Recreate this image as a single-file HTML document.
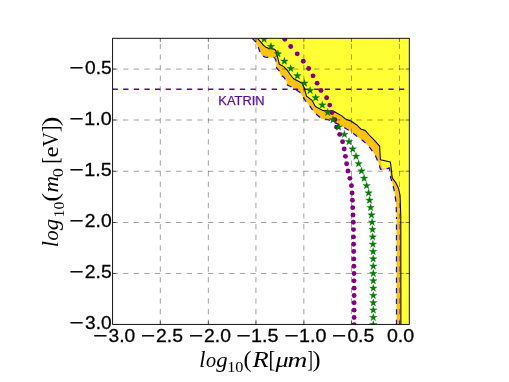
<!DOCTYPE html>
<html><head><meta charset="utf-8"><title>plot</title>
<style>html,body{margin:0;padding:0;background:#fff;}body{width:509px;height:382px;overflow:hidden;font-family:"Liberation Sans",sans-serif;}svg{display:block;}text{font-family:"Liberation Sans",sans-serif;}.s{font-family:"Liberation Serif",serif;}.i{font-family:"Liberation Serif",serif;font-style:italic;}</style></head><body>
<svg style="will-change:transform" width="509" height="382" viewBox="0 0 509 382">
<rect width="509" height="382" fill="#fff"/>
<defs><clipPath id="c"><rect x="112.6" y="38.3" width="296.7" height="286.1"/></clipPath></defs>
<g clip-path="url(#c)">
<polygon points="257.6,38.3 258.1,39.1 260.9,42.2 263.6,45.4 266.0,47.3 269.1,48.5 273.9,48.9 275.8,50.5 277.0,54.8 278.3,59.9 279.4,64.3 283.8,66.6 286.9,69.8 289.6,73.7 293.6,78.8 297.5,80.8 302.6,83.5 304.2,87.7 306.5,96.2 311.8,100.1 315.4,106.5 323.0,110.6 333.6,111.2 341.8,115.9 345.4,118.9 351.3,121.2 357.2,125.3 360.7,128.9 365.4,130.6 369.2,135.0 374.5,140.3 379.6,146.2 380.4,159.8 381.3,164.5 382.4,168.4 385.5,168.2 389.0,166.9 390.9,167.6 391.6,172.0 392.2,177.9 395.7,182.6 398.6,188.5 400.1,195.6 400.8,217.0 400.9,326.0 410.3,325.4 410.3,37.3 257.1,37.3" fill="#ffff33"/>
<polygon points="251.9,37.3 252.4,38.3 253.0,39.1 255.8,42.2 258.1,46.9 260.1,52.4 262.1,55.6 265.2,57.1 269.9,57.4 274.3,57.5 275.8,60.0 276.3,64.0 276.5,67.8 279.0,70.5 280.6,74.9 283.8,77.2 286.5,81.1 287.5,85.1 293.0,87.7 300.0,92.4 305.3,100.6 310.1,106.3 314.7,113.0 321.8,118.9 327.7,119.5 337.1,123.6 345.4,128.3 351.3,131.8 357.2,136.5 363.0,140.7 369.2,146.8 375.1,155.0 379.2,164.5 380.4,169.2 383.3,170.1 389.2,168.0 390.4,175.1 390.7,177.9 392.7,183.8 394.5,192.0 396.1,202.6 396.5,217.0 396.5,326.0 400.9,326.0 400.8,217.0 400.1,195.6 398.6,188.5 395.7,182.6 392.2,177.9 391.6,172.0 390.9,167.6 389.0,166.9 385.5,168.2 382.4,168.4 381.3,164.5 380.4,159.8 379.6,146.2 374.5,140.3 369.2,135.0 365.4,130.6 360.7,128.9 357.2,125.3 351.3,121.2 345.4,118.9 341.8,115.9 333.6,111.2 323.0,110.6 315.4,106.5 311.8,100.1 306.5,96.2 304.2,87.7 302.6,83.5 297.5,80.8 293.6,78.8 289.6,73.7 286.9,69.8 283.8,66.6 279.4,64.3 278.3,59.9 277.0,54.8 275.8,50.5 273.9,48.9 269.1,48.5 266.0,47.3 263.6,45.4 260.9,42.2 258.1,39.1 257.6,38.3 257.1,37.3" fill="#ffc20d"/>
<g stroke="#000" stroke-opacity="0.57" stroke-width="0.66" fill="none" stroke-dasharray="5.303 5.303">
<line x1="160.30" y1="324.84" x2="160.30" y2="30"/>
<line x1="208.35" y1="324.84" x2="208.35" y2="30"/>
<line x1="255.95" y1="324.84" x2="255.95" y2="30"/>
<line x1="303.85" y1="324.84" x2="303.85" y2="30"/>
<line x1="351.45" y1="324.84" x2="351.45" y2="30"/>
<line x1="399.45" y1="324.84" x2="399.45" y2="30"/>
</g>
<g stroke="#000" stroke-opacity="0.57" stroke-width="0.66" fill="none" stroke-dasharray="5.303 5.303">
<line x1="112.5" y1="273.45" x2="420" y2="273.45"/>
<line x1="112.5" y1="222.50" x2="420" y2="222.50"/>
<line x1="112.5" y1="171.25" x2="420" y2="171.25"/>
<line x1="112.5" y1="120.00" x2="420" y2="120.00"/>
<line x1="112.5" y1="69.08" x2="420" y2="69.08"/>
</g>
<line x1="112.6" y1="89.30" x2="404.3" y2="89.30" stroke="#5e0099" stroke-width="1.45" stroke-dasharray="5.303 5.303"/>
<polyline points="257.6,38.3 258.1,39.1 260.9,42.2 263.6,45.4 266.0,47.3 269.1,48.5 273.9,48.9 275.8,50.5 277.0,54.8 278.3,59.9 279.4,64.3 283.8,66.6 286.9,69.8 289.6,73.7 293.6,78.8 297.5,80.8 302.6,83.5 304.2,87.7 306.5,96.2 311.8,100.1 315.4,106.5 323.0,110.6 333.6,111.2 341.8,115.9 345.4,118.9 351.3,121.2 357.2,125.3 360.7,128.9 365.4,130.6 369.2,135.0 374.5,140.3 379.6,146.2 380.4,159.8 390.4,162.1 391.6,172.0 392.2,177.9 395.7,182.6 398.6,188.5 400.1,195.6 400.8,217.0 400.9,326.0" fill="none" stroke="#000" stroke-width="1.05" stroke-linejoin="round"/>
<polyline points="252.4,38.3 253.0,39.1 255.8,42.2 258.1,46.9 260.1,52.4 262.1,55.6 265.2,57.1 269.9,57.4 274.3,57.5 275.8,60.0 276.3,64.0 276.5,67.8 279.0,70.5 280.6,74.9 283.8,77.2 286.5,81.1 287.5,85.1 293.0,87.7 300.0,92.4 305.3,100.6 310.1,106.3 314.7,113.0 321.8,118.9 327.7,119.5 337.1,123.6 345.4,128.3 351.3,131.8 357.2,136.5 363.0,140.7 369.2,146.8 375.1,155.0 379.2,164.5 380.4,169.2 383.3,170.1 389.2,168.0 390.4,175.1 390.7,177.9 392.7,183.8 394.5,192.0 396.1,202.6 396.5,217.0" fill="none" stroke="#0a0aff" stroke-width="1.25" stroke-dasharray="5.303 5.303"/>
<polyline points="396.5,217.0 396.5,326.0" fill="none" stroke="#0a0aff" stroke-width="1.25" stroke-dasharray="5.303 5.303" stroke-dashoffset="3.2"/>
<g fill="#800080">
<circle cx="354.1" cy="324.78" r="2.45"/>
<circle cx="354.1" cy="317.46" r="2.45"/>
<circle cx="354.1" cy="310.14" r="2.45"/>
<circle cx="354.1" cy="302.81" r="2.45"/>
<circle cx="354.1" cy="295.49" r="2.45"/>
<circle cx="354.1" cy="288.17" r="2.45"/>
<circle cx="354.0" cy="280.85" r="2.45"/>
<circle cx="354.0" cy="273.53" r="2.45"/>
<circle cx="353.9" cy="266.20" r="2.45"/>
<circle cx="353.8" cy="258.88" r="2.45"/>
<circle cx="353.7" cy="251.56" r="2.45"/>
<circle cx="353.6" cy="244.24" r="2.45"/>
<circle cx="353.5" cy="236.92" r="2.45"/>
<circle cx="353.5" cy="229.59" r="2.45"/>
<circle cx="353.3" cy="222.27" r="2.45"/>
<circle cx="353.0" cy="214.95" r="2.45"/>
<circle cx="352.7" cy="207.63" r="2.45"/>
<circle cx="352.4" cy="200.31" r="2.45"/>
<circle cx="352.1" cy="192.98" r="2.45"/>
<circle cx="351.5" cy="185.66" r="2.45"/>
<circle cx="349.9" cy="178.34" r="2.45"/>
<circle cx="348.0" cy="171.02" r="2.45"/>
<circle cx="346.6" cy="163.70" r="2.45"/>
<circle cx="345.4" cy="156.37" r="2.45"/>
<circle cx="344.2" cy="149.05" r="2.45"/>
<circle cx="342.6" cy="141.73" r="2.45"/>
<circle cx="339.7" cy="134.41" r="2.45"/>
<circle cx="336.5" cy="127.09" r="2.45"/>
<circle cx="334.8" cy="119.76" r="2.45"/>
<circle cx="332.0" cy="112.44" r="2.45"/>
<circle cx="329.7" cy="105.12" r="2.45"/>
<circle cx="326.6" cy="97.80" r="2.45"/>
<circle cx="321.0" cy="90.48" r="2.45"/>
<circle cx="317.1" cy="83.15" r="2.45"/>
<circle cx="313.0" cy="75.83" r="2.45"/>
<circle cx="308.7" cy="68.51" r="2.45"/>
<circle cx="303.3" cy="61.19" r="2.45"/>
<circle cx="297.2" cy="53.87" r="2.45"/>
<circle cx="290.7" cy="46.54" r="2.45"/>
<circle cx="284.8" cy="39.22" r="2.45"/>
</g>
<g fill="#008000" stroke="#006400" stroke-width="0.3">
<polygon points="373.30,320.83 374.23,323.50 377.06,323.56 374.80,325.27 375.62,327.98 373.30,326.36 370.98,327.98 371.80,325.27 369.54,323.56 372.37,323.50"/>
<polygon points="373.30,313.51 374.23,316.18 377.06,316.24 374.80,317.95 375.62,320.65 373.30,319.04 370.98,320.65 371.80,317.95 369.54,316.24 372.37,316.18"/>
<polygon points="373.30,306.19 374.23,308.86 377.06,308.92 374.80,310.62 375.62,313.33 373.30,311.72 370.98,313.33 371.80,310.62 369.54,308.92 372.37,308.86"/>
<polygon points="373.30,298.86 374.23,301.54 377.06,301.59 374.80,303.30 375.62,306.01 373.30,304.39 370.98,306.01 371.80,303.30 369.54,301.59 372.37,301.54"/>
<polygon points="373.30,291.54 374.23,294.21 377.06,294.27 374.80,295.98 375.62,298.69 373.30,297.07 370.98,298.69 371.80,295.98 369.54,294.27 372.37,294.21"/>
<polygon points="373.30,284.22 374.23,286.89 377.06,286.95 374.80,288.66 375.62,291.37 373.30,289.75 370.98,291.37 371.80,288.66 369.54,286.95 372.37,286.89"/>
<polygon points="373.30,276.90 374.23,279.57 377.06,279.63 374.80,281.34 375.62,284.04 373.30,282.43 370.98,284.04 371.80,281.34 369.54,279.63 372.37,279.57"/>
<polygon points="373.30,269.58 374.23,272.25 377.06,272.31 374.80,274.01 375.62,276.72 373.30,275.11 370.98,276.72 371.80,274.01 369.54,272.31 372.37,272.25"/>
<polygon points="373.30,262.25 374.23,264.93 377.06,264.98 374.80,266.69 375.62,269.40 373.30,267.78 370.98,269.40 371.80,266.69 369.54,264.98 372.37,264.93"/>
<polygon points="373.20,254.93 374.13,257.60 376.96,257.66 374.70,259.37 375.52,262.08 373.20,260.46 370.88,262.08 371.70,259.37 369.44,257.66 372.27,257.60"/>
<polygon points="373.10,247.61 374.03,250.28 376.86,250.34 374.60,252.05 375.42,254.76 373.10,253.14 370.78,254.76 371.60,252.05 369.34,250.34 372.17,250.28"/>
<polygon points="372.90,240.29 373.83,242.96 376.66,243.02 374.40,244.73 375.22,247.43 372.90,245.82 370.58,247.43 371.40,244.73 369.14,243.02 371.97,242.96"/>
<polygon points="372.70,232.97 373.63,235.64 376.46,235.70 374.20,237.40 375.02,240.11 372.70,238.50 370.38,240.11 371.20,237.40 368.94,235.70 371.77,235.64"/>
<polygon points="372.50,225.64 373.43,228.32 376.26,228.37 374.00,230.08 374.82,232.79 372.50,231.17 370.18,232.79 371.00,230.08 368.74,228.37 371.57,228.32"/>
<polygon points="372.10,218.32 373.03,220.99 375.86,221.05 373.60,222.76 374.42,225.47 372.10,223.85 369.78,225.47 370.60,222.76 368.34,221.05 371.17,220.99"/>
<polygon points="371.50,211.00 372.43,213.67 375.26,213.73 373.00,215.44 373.82,218.15 371.50,216.53 369.18,218.15 370.00,215.44 367.74,213.73 370.57,213.67"/>
<polygon points="370.60,203.68 371.53,206.35 374.36,206.41 372.10,208.12 372.92,210.82 370.60,209.21 368.28,210.82 369.10,208.12 366.84,206.41 369.67,206.35"/>
<polygon points="369.50,196.36 370.43,199.03 373.26,199.09 371.00,200.79 371.82,203.50 369.50,201.89 367.18,203.50 368.00,200.79 365.74,199.09 368.57,199.03"/>
<polygon points="368.60,189.03 369.53,191.71 372.36,191.76 370.10,193.47 370.92,196.18 368.60,194.56 366.28,196.18 367.10,193.47 364.84,191.76 367.67,191.71"/>
<polygon points="366.60,181.71 367.53,184.38 370.36,184.44 368.10,186.15 368.92,188.86 366.60,187.24 364.28,188.86 365.10,186.15 362.84,184.44 365.67,184.38"/>
<polygon points="364.10,174.39 365.03,177.06 367.86,177.12 365.60,178.83 366.42,181.54 364.10,179.92 361.78,181.54 362.60,178.83 360.34,177.12 363.17,177.06"/>
<polygon points="361.50,167.07 362.43,169.74 365.26,169.80 363.00,171.51 363.82,174.21 361.50,172.60 359.18,174.21 360.00,171.51 357.74,169.80 360.57,169.74"/>
<polygon points="358.60,159.75 359.53,162.42 362.36,162.48 360.10,164.18 360.92,166.89 358.60,165.28 356.28,166.89 357.10,164.18 354.84,162.48 357.67,162.42"/>
<polygon points="356.00,152.42 356.93,155.10 359.76,155.15 357.50,156.86 358.32,159.57 356.00,157.95 353.68,159.57 354.50,156.86 352.24,155.15 355.07,155.10"/>
<polygon points="352.70,145.10 353.63,147.77 356.46,147.83 354.20,149.54 355.02,152.25 352.70,150.63 350.38,152.25 351.20,149.54 348.94,147.83 351.77,147.77"/>
<polygon points="349.00,137.78 349.93,140.45 352.76,140.51 350.50,142.22 351.32,144.93 349.00,143.31 346.68,144.93 347.50,142.22 345.24,140.51 348.07,140.45"/>
<polygon points="344.40,130.46 345.33,133.13 348.16,133.19 345.90,134.90 346.72,137.60 344.40,135.99 342.08,137.60 342.90,134.90 340.64,133.19 343.47,133.13"/>
<polygon points="338.60,123.14 339.53,125.81 342.36,125.87 340.10,127.57 340.92,130.28 338.60,128.67 336.28,130.28 337.10,127.57 334.84,125.87 337.67,125.81"/>
<polygon points="333.00,115.81 333.93,118.49 336.76,118.54 334.50,120.25 335.32,122.96 333.00,121.34 330.68,122.96 331.50,120.25 329.24,118.54 332.07,118.49"/>
<polygon points="327.70,108.49 328.63,111.16 331.46,111.22 329.20,112.93 330.02,115.64 327.70,114.02 325.38,115.64 326.20,112.93 323.94,111.22 326.77,111.16"/>
<polygon points="322.30,101.17 323.23,103.84 326.06,103.90 323.80,105.61 324.62,108.32 322.30,106.70 319.98,108.32 320.80,105.61 318.54,103.90 321.37,103.84"/>
<polygon points="315.70,93.85 316.63,96.52 319.46,96.58 317.20,98.29 318.02,100.99 315.70,99.38 313.38,100.99 314.20,98.29 311.94,96.58 314.77,96.52"/>
<polygon points="310.10,86.53 311.03,89.20 313.86,89.26 311.60,90.96 312.42,93.67 310.10,92.06 307.78,93.67 308.60,90.96 306.34,89.26 309.17,89.20"/>
<polygon points="304.40,79.20 305.33,81.88 308.16,81.93 305.90,83.64 306.72,86.35 304.40,84.73 302.08,86.35 302.90,83.64 300.64,81.93 303.47,81.88"/>
<polygon points="297.40,71.88 298.33,74.55 301.16,74.61 298.90,76.32 299.72,79.03 297.40,77.41 295.08,79.03 295.90,76.32 293.64,74.61 296.47,74.55"/>
<polygon points="290.70,64.56 291.63,67.23 294.46,67.29 292.20,69.00 293.02,71.71 290.70,70.09 288.38,71.71 289.20,69.00 286.94,67.29 289.77,67.23"/>
<polygon points="284.40,57.24 285.33,59.91 288.16,59.97 285.90,61.68 286.72,64.38 284.40,62.77 282.08,64.38 282.90,61.68 280.64,59.97 283.47,59.91"/>
<polygon points="277.90,49.92 278.83,52.59 281.66,52.65 279.40,54.35 280.22,57.06 277.90,55.45 275.58,57.06 276.40,54.35 274.14,52.65 276.97,52.59"/>
<polygon points="271.00,42.59 271.93,45.27 274.76,45.32 272.50,47.03 273.32,49.74 271.00,48.12 268.68,49.74 269.50,47.03 267.24,45.32 270.07,45.27"/>
<polygon points="264.10,35.27 265.03,37.94 267.86,38.00 265.60,39.71 266.42,42.42 264.10,40.80 261.78,42.42 262.60,39.71 260.34,38.00 263.17,37.94"/>
</g>
</g>
<rect x="112.60" y="38.30" width="296.70" height="286.10" fill="none" stroke="#000" stroke-width="0.92"/>
<g stroke="#000" stroke-width="0.55">
<line x1="160.30" y1="324.40" x2="160.30" y2="320.80"/>
<line x1="160.30" y1="38.30" x2="160.30" y2="41.90"/>
<line x1="208.35" y1="324.40" x2="208.35" y2="320.80"/>
<line x1="208.35" y1="38.30" x2="208.35" y2="41.90"/>
<line x1="255.95" y1="324.40" x2="255.95" y2="320.80"/>
<line x1="255.95" y1="38.30" x2="255.95" y2="41.90"/>
<line x1="303.85" y1="324.40" x2="303.85" y2="320.80"/>
<line x1="303.85" y1="38.30" x2="303.85" y2="41.90"/>
<line x1="351.45" y1="324.40" x2="351.45" y2="320.80"/>
<line x1="351.45" y1="38.30" x2="351.45" y2="41.90"/>
<line x1="399.45" y1="324.40" x2="399.45" y2="320.80"/>
<line x1="399.45" y1="38.30" x2="399.45" y2="41.90"/>
<line x1="112.60" y1="273.45" x2="116.20" y2="273.45"/>
<line x1="409.30" y1="273.45" x2="405.70" y2="273.45"/>
<line x1="112.60" y1="222.50" x2="116.20" y2="222.50"/>
<line x1="409.30" y1="222.50" x2="405.70" y2="222.50"/>
<line x1="112.60" y1="171.25" x2="116.20" y2="171.25"/>
<line x1="409.30" y1="171.25" x2="405.70" y2="171.25"/>
<line x1="112.60" y1="120.00" x2="116.20" y2="120.00"/>
<line x1="409.30" y1="120.00" x2="405.70" y2="120.00"/>
<line x1="112.60" y1="69.08" x2="116.20" y2="69.08"/>
<line x1="409.30" y1="69.08" x2="405.70" y2="69.08"/>
</g>
<text y="104.9" font-size="12.5" fill="#5a0e9c" stroke="#5a0e9c" stroke-width="0.25"><tspan x="218.37" textLength="46.26" lengthAdjust="spacingAndGlyphs">KATRIN</tspan></text>
<text y="342.1" font-size="18.8" stroke="#000" stroke-width="0.3"><tspan x="93.20" textLength="14.18" lengthAdjust="spacingAndGlyphs">−</tspan><tspan x="108.57" textLength="26.63" lengthAdjust="spacingAndGlyphs">3.0</tspan></text>
<text y="342.1" font-size="18.8" stroke="#000" stroke-width="0.3"><tspan x="140.90" textLength="14.18" lengthAdjust="spacingAndGlyphs">−</tspan><tspan x="156.03" textLength="26.94" lengthAdjust="spacingAndGlyphs">2.5</tspan></text>
<text y="342.1" font-size="18.8" stroke="#000" stroke-width="0.3"><tspan x="188.95" textLength="14.18" lengthAdjust="spacingAndGlyphs">−</tspan><tspan x="204.08" textLength="26.88" lengthAdjust="spacingAndGlyphs">2.0</tspan></text>
<text y="342.1" font-size="18.8" stroke="#000" stroke-width="0.3"><tspan x="236.55" textLength="14.18" lengthAdjust="spacingAndGlyphs">−</tspan><tspan x="251.14" textLength="27.49" lengthAdjust="spacingAndGlyphs">1.5</tspan></text>
<text y="342.1" font-size="18.8" stroke="#000" stroke-width="0.3"><tspan x="284.45" textLength="14.18" lengthAdjust="spacingAndGlyphs">−</tspan><tspan x="299.05" textLength="27.42" lengthAdjust="spacingAndGlyphs">1.0</tspan></text>
<text y="342.1" font-size="18.8" stroke="#000" stroke-width="0.3"><tspan x="332.05" textLength="14.18" lengthAdjust="spacingAndGlyphs">−</tspan><tspan x="347.40" textLength="26.71" lengthAdjust="spacingAndGlyphs">0.5</tspan></text>
<text y="342.1" font-size="18.8" stroke="#000" stroke-width="0.3"><tspan x="386.98" textLength="27.23" lengthAdjust="spacingAndGlyphs">0.0</tspan></text>
<text y="329.4" font-size="18.8" stroke="#000" stroke-width="0.3"><tspan x="69.61" textLength="14.06" lengthAdjust="spacingAndGlyphs">−</tspan><tspan x="85.07" textLength="26.57" lengthAdjust="spacingAndGlyphs">3.0</tspan></text>
<text y="278.1" font-size="18.8" stroke="#000" stroke-width="0.3"><tspan x="69.61" textLength="14.06" lengthAdjust="spacingAndGlyphs">−</tspan><tspan x="84.83" textLength="26.88" lengthAdjust="spacingAndGlyphs">2.5</tspan></text>
<text y="227.2" font-size="18.8" stroke="#000" stroke-width="0.3"><tspan x="69.61" textLength="14.06" lengthAdjust="spacingAndGlyphs">−</tspan><tspan x="84.83" textLength="26.82" lengthAdjust="spacingAndGlyphs">2.0</tspan></text>
<text y="175.9" font-size="18.8" stroke="#000" stroke-width="0.3"><tspan x="69.61" textLength="14.06" lengthAdjust="spacingAndGlyphs">−</tspan><tspan x="84.30" textLength="27.43" lengthAdjust="spacingAndGlyphs">1.5</tspan></text>
<text y="124.7" font-size="18.8" stroke="#000" stroke-width="0.3"><tspan x="69.61" textLength="14.06" lengthAdjust="spacingAndGlyphs">−</tspan><tspan x="84.30" textLength="27.37" lengthAdjust="spacingAndGlyphs">1.0</tspan></text>
<text y="73.8" font-size="18.8" stroke="#000" stroke-width="0.3"><tspan x="69.61" textLength="14.06" lengthAdjust="spacingAndGlyphs">−</tspan><tspan x="85.05" textLength="26.65" lengthAdjust="spacingAndGlyphs">0.5</tspan></text>
<g transform="translate(200.3,366.5)"><text class="i" y="0.0" font-size="23.3"><tspan x="-1.18" textLength="6.17" lengthAdjust="spacingAndGlyphs">l</tspan></text><text class="i" y="0.0" font-size="22.0"><tspan x="5.60" textLength="10.10" lengthAdjust="spacingAndGlyphs">o</tspan></text><text class="i" y="0.0" font-size="22.0"><tspan x="15.89" textLength="11.38" lengthAdjust="spacingAndGlyphs">g</tspan></text><text class="s" y="5.9" font-size="15.5"><tspan x="26.87" textLength="16.25" lengthAdjust="spacingAndGlyphs">10</tspan></text><text class="s" y="0.0" font-size="24.0"><tspan x="43.14" textLength="8.04" lengthAdjust="spacingAndGlyphs">(</tspan></text><text class="i" y="0.0" font-size="23.5"><tspan x="52.24" textLength="16.20" lengthAdjust="spacingAndGlyphs">R</tspan></text><text class="s" y="0.0" font-size="24.0"><tspan x="68.20" textLength="6.73" lengthAdjust="spacingAndGlyphs">[</tspan></text><text class="i" y="0.0" font-size="22.0"><tspan x="75.13" textLength="13.14" lengthAdjust="spacingAndGlyphs">μ</tspan></text><text class="i" y="0.0" font-size="22.0"><tspan x="87.31" textLength="19.85" lengthAdjust="spacingAndGlyphs">m</tspan></text><text class="s" y="0.0" font-size="24.0"><tspan x="107.12" textLength="5.38" lengthAdjust="spacingAndGlyphs">]</tspan></text><text class="s" y="0.0" font-size="24.0"><tspan x="112.32" textLength="8.04" lengthAdjust="spacingAndGlyphs">)</tspan></text></g>
<g transform="translate(58.4,246.1) rotate(-90)"><text class="i" y="0.0" font-size="23.3"><tspan x="-1.18" textLength="6.17" lengthAdjust="spacingAndGlyphs">l</tspan></text><text class="i" y="0.0" font-size="22.0"><tspan x="5.60" textLength="10.10" lengthAdjust="spacingAndGlyphs">o</tspan></text><text class="i" y="0.0" font-size="22.0"><tspan x="15.89" textLength="11.38" lengthAdjust="spacingAndGlyphs">g</tspan></text><text class="s" y="5.9" font-size="15.5"><tspan x="28.61" textLength="15.79" lengthAdjust="spacingAndGlyphs">10</tspan></text><text class="s" y="0.0" font-size="24.0"><tspan x="44.44" textLength="8.82" lengthAdjust="spacingAndGlyphs">(</tspan></text><text class="i" y="0.0" font-size="22.0"><tspan x="53.58" textLength="16.48" lengthAdjust="spacingAndGlyphs">m</tspan></text><text class="s" y="4.9" font-size="15.5"><tspan x="68.80" textLength="9.20" lengthAdjust="spacingAndGlyphs">0</tspan></text><text class="s" y="0.0" font-size="24.0"><tspan x="82.37" textLength="6.43" lengthAdjust="spacingAndGlyphs">[</tspan></text><text class="s" y="0.0" font-size="22.0"><tspan x="88.73" textLength="11.03" lengthAdjust="spacingAndGlyphs">e</tspan></text><text class="s" y="0.0" font-size="23.5"><tspan x="99.27" textLength="14.55" lengthAdjust="spacingAndGlyphs">V</tspan></text><text class="s" y="0.0" font-size="24.0"><tspan x="113.87" textLength="6.73" lengthAdjust="spacingAndGlyphs">]</tspan></text><text class="s" y="0.0" font-size="24.0"><tspan x="119.52" textLength="10.11" lengthAdjust="spacingAndGlyphs">)</tspan></text></g>
</svg></body></html>
